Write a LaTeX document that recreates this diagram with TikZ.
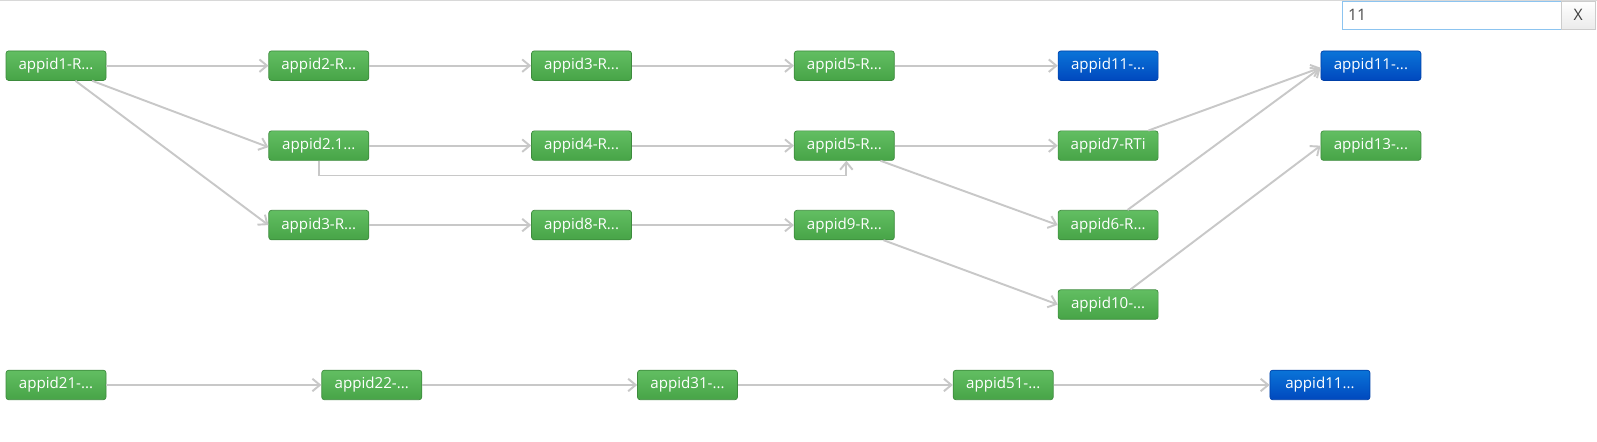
\documentclass[tikz,border=0pt]{standalone}
\usepackage{fontspec}
\setmainfont{Open Sans}
\usetikzlibrary{arrows.meta,calc}
\definecolor{edgegray}{HTML}{C8C8C8}
\definecolor{greentop}{HTML}{62BE62}
\definecolor{greenbot}{HTML}{47A447}
\definecolor{greenline}{HTML}{3D8B3D}
\definecolor{bluetop}{HTML}{0A74D8}
\definecolor{bluebot}{HTML}{0048BE}
\definecolor{blueline}{HTML}{0040A8}
\definecolor{focusblue}{HTML}{8CC4F0}
\begin{document}
\begin{tikzpicture}[x=0.02037cm,y=-0.02037cm]
		\tikzset{vertex/.style = {rectangle, rounded corners=1.5pt, minimum width=2cm, minimum height=0.59cm,
				inner sep=0pt, text=white, font=\fontsize{8.6}{10}\selectfont,
				top color=greentop, bottom color=greenbot, draw=greenline, line width=0.4pt}}
		\tikzset{hit/.style = {vertex, top color=bluetop, bottom color=bluebot, draw=blueline}}
		\tikzset{edge/.style = {-{Straight Barb[length=0.15cm,width=0.25cm]}, draw=edgegray, line width=1.1pt}}
		
		\useasboundingbox (0,0) rectangle (1568,433);
		\draw[edgegray!70, line width=0.6pt] (0,0.5) -- (1568,0.5);
		
		% search box
		\node[rectangle, draw=focusblue, fill=white, minimum width=4.38cm, minimum height=0.57cm, inner sep=0pt,
			text=black!70, font=\fontsize{9}{10}\selectfont, text width=4.15cm, align=left] (search) at (1425.5,15) {11};
		\node[rectangle, draw=black!20, top color=white, bottom color=black!8, minimum width=0.67cm, minimum height=0.57cm,
			inner sep=0pt, text=black!75, font=\fontsize{9}{10}\selectfont] (clear) at (1549.5,15) {X};
		
		\node[vertex]  (1) at (  55, 64.5) {appid1-R...};
		\node[vertex]  (2) at ( 313, 64.5) {appid2-R...};
		\node[vertex]  (3) at ( 571, 64.5) {appid3-R...};
		\node[vertex]  (4) at ( 829, 64.5) {appid5-R...};
		\node[hit]     (5) at (1088, 64.5) {appid11-...};
		\node[hit]     (6) at (1346, 64.5) {appid11-...};
		\node[vertex]  (7) at ( 313,  143) {appid2.1...};
		\node[vertex]  (8) at ( 571,  143) {appid4-R...};
		\node[vertex]  (9) at ( 829,  143) {appid5-R...};
		\node[vertex] (10) at (1088,  143) {appid7-RTi};
		\node[vertex] (11) at (1346,  143) {appid13-...};
		\node[vertex] (12) at ( 313,  221) {appid3-R...};
		\node[vertex] (13) at ( 571,  221) {appid8-R...};
		\node[vertex] (14) at ( 829,  221) {appid9-R...};
		\node[vertex] (15) at (1088,  221) {appid6-R...};
		\node[vertex] (16) at (1088,  299) {appid10-...};
		
		\node[vertex] (17) at (  55,  378) {appid21-...};
		\node[vertex] (18) at ( 365,  378) {appid22-...};
		\node[vertex] (19) at ( 675,  378) {appid31-...};
		\node[vertex] (20) at ( 985,  378) {appid51-...};
		\node[hit]    (21) at (1296,  378) {appid11...};
		
		\draw[edge] (1) to  (2);
		\draw[edge] ($(1.south east)+(-14,0)$) to ($(7.west)+(0,1.5)$);
		\draw[edge] ($(1.south)+(19,0)$) to (12.west);
		\draw[edge] (2) to  (3);
		\draw[edge] (3) to  (4);
		\draw[edge] (4) to  (5);
		\draw[edge] (7) to  (8);
		\draw[edge] (8) to  (9);
		\draw[edge] (7.south) -- ++(0,14.5) -| ($(9.south)+(2,0)$);
		\draw[edge] (9) to (10);
		\draw[edge] ($(9.south east)+(-14,0)$) to (15.west);
		\draw[edge] (12) to (13);
		\draw[edge] (13) to (14);
		\draw[edge] ($(14.south east)+(-11,0)$) to (16.west);
		\draw[edge] ($(10.north east)+(-10,0)$) to ($(6.west)+(0,2)$);
		\draw[edge] ($(15.north)+(19,0)$) to ($(6.west)+(0,2)$);
		\draw[edge] ($(16.north)+(22,0)$) to (11.west);
		
		\draw[edge] (17) to (18);
		\draw[edge] (18) to (19);
		\draw[edge] (19) to (20);
		\draw[edge] (20) to (21);
		\end{tikzpicture}
\end{document}
